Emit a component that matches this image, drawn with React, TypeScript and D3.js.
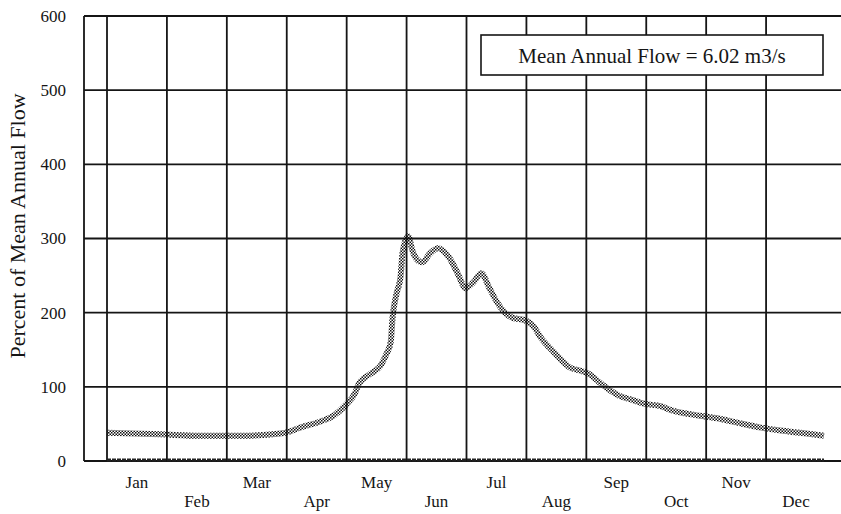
import React from 'react';
import * as d3 from 'd3';

// month names, in order; odd ones sit on the upper row
const months = ['Jan', 'Feb', 'Mar', 'Apr', 'May', 'Jun', 'Jul', 'Aug', 'Sep', 'Oct', 'Nov', 'Dec'];
const yTicks = [0, 100, 200, 300, 400, 500, 600];

// daily flow (day of year, % of mean annual flow)
const flowDays = [0, 27, 47, 68, 88, 93, 98, 108, 115, 121, 126, 128, 134, 139, 142, 144, 145, 147, 149, 150, 151, 153,
  155, 158, 160, 164, 168, 174, 178, 182, 186, 190, 194, 198, 202, 206, 212, 217, 220, 225, 230, 235, 240, 245, 250,
  255, 260, 266, 273, 281, 286, 301, 311, 321, 332, 342, 352, 364];
const flowPct = [38, 36, 34, 34, 37, 40, 45, 53, 61, 75, 92, 105, 118, 129, 145, 160, 194, 226, 248, 280, 293, 303,
  284, 270, 268, 280, 287, 273, 253, 233, 241, 253, 234, 214, 200, 193, 190, 180, 167, 152, 138, 126, 122, 117, 106,
  96, 88, 83, 77, 74, 69, 61, 57, 51, 45, 41, 38, 34];

// second series lying flat on zero
const zeroDays = [0, 364];
const zeroPct = [0, 0];

const note = 'Mean Annual Flow = 6.02 m3/s';
const yTitle = 'Percent of Mean Annual Flow';

const W = 841;
const H = 514;
const font = '"Liberation Serif", "Times New Roman", serif';
const ink = '#151515';

const App: React.FC = () => {
  const x = d3.scaleLinear().domain([0, 365]).range([107, 826]);
  const y = d3.scaleLinear().domain([0, 600]).range([461, 16]);
  const monthLen = 365 / 12;

  const line = d3.line<[number, number]>()
    .x((d) => x(d[0]))
    .y((d) => y(d[1]))
    .curve(d3.curveMonotoneX);

  const flow = flowDays.map((d, i) => [d, flowPct[i]] as [number, number]);
  const zero = zeroDays.map((d, i) => [d, zeroPct[i]] as [number, number]);

  const left = 84;

  return (
    <svg width={W} height={H} style={{ position: 'absolute', left: 0, top: 0, background: '#fff' }}>
      <defs>
        <pattern id="dither" width={3} height={3} patternUnits="userSpaceOnUse">
          <rect x={0} y={0} width={1.5} height={1.5} fill="#111" />
          <rect x={1.5} y={1.5} width={1.5} height={1.5} fill="#111" />
        </pattern>
      </defs>

      {/* horizontal grid */}
      {yTicks.map((t) => (
        <line key={'h' + t} x1={left} x2={W} y1={y(t)} y2={y(t)} stroke={ink} strokeWidth={1.8} />
      ))}
      {/* left frame */}
      <line x1={left} x2={left} y1={y(600)} y2={y(0)} stroke={ink} strokeWidth={1.8} />
      {/* month grid */}
      {months.map((m, i) => (
        <line key={'v' + m} x1={x(i * monthLen)} x2={x(i * monthLen)} y1={y(600)} y2={y(0)} stroke={ink} strokeWidth={1.8} />
      ))}

      {/* y tick labels */}
      {yTicks.map((t) => (
        <text key={'t' + t} x={66} y={y(t)} dy="0.35em" textAnchor="end" fontFamily={font} fontSize={17} fill={ink}>
          {t}
        </text>
      ))}

      {/* month labels, staggered */}
      {months.map((m, i) => (
        <text key={'m' + m} x={x((i + 0.5) * monthLen)} y={i % 2 === 0 ? 488 : 507} textAnchor="middle"
          fontFamily={font} fontSize={17} fill={ink}>
          {m}
        </text>
      ))}

      <text transform={`translate(25,226) rotate(-90)`} textAnchor="middle" fontFamily={font} fontSize={22} fill={ink}>
        {yTitle}
      </text>

      {/* series */}
      <path d={line(zero) || ''} fill="none" stroke="#222" strokeWidth={3} strokeDasharray="4 1" transform="translate(0,-1)" />
      <path d={line(flow) || ''} fill="none" stroke="url(#dither)" strokeWidth={6} strokeLinejoin="round" />

      {/* annotation box */}
      <rect x={481} y={35} width={342} height={40} fill="#fff" stroke={ink} strokeWidth={1.6} />
      <text x={652} y={63} textAnchor="middle" fontFamily={font} fontSize={21} fill={ink}>
        {note}
      </text>
    </svg>
  );
};

export default App;
